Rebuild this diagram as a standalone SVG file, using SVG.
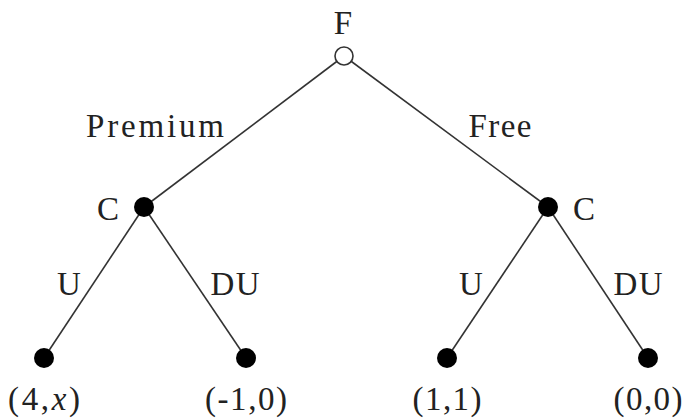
<svg xmlns="http://www.w3.org/2000/svg" width="682" height="420" viewBox="0 0 682 420">
<style>
text{font-family:"Liberation Serif","DejaVu Serif",serif;font-size:33px;fill:#222;text-anchor:middle}
.e{stroke:#333;stroke-width:1.6;fill:none}
.d{fill:#000}
</style>
<rect width="682" height="420" fill="#fff"/>
<g id="edges">
<line class="e" x1="344" y1="56" x2="144" y2="207"/>
<line class="e" x1="344" y1="56" x2="548" y2="207"/>
<line class="e" x1="144" y1="207" x2="44" y2="358"/>
<line class="e" x1="144" y1="207" x2="246" y2="358"/>
<line class="e" x1="548" y1="207" x2="447" y2="358"/>
<line class="e" x1="548" y1="207" x2="648" y2="358"/>
</g>
<g id="edge-labels">
<text x="155" y="137" textLength="138" lengthAdjust="spacing">Premium</text>
<text x="500" y="137" textLength="63" lengthAdjust="spacing">Free</text>
<text x="69" y="295">U</text>
<text x="235" y="295" textLength="49" lengthAdjust="spacing">DU</text>
<text x="471" y="295">U</text>
<text x="638" y="295" textLength="49" lengthAdjust="spacing">DU</text>
</g>
<g id="F">
<circle cx="344" cy="56" r="9" fill="#fff" stroke="#333" stroke-width="1.6"/>
<text x="343" y="34">F</text>
</g>
<g id="C-left">
<circle class="d" cx="144" cy="207" r="10"/>
<text x="108" y="220">C</text>
</g>
<g id="C-right">
<circle class="d" cx="548" cy="207" r="10"/>
<text x="584" y="220">C</text>
</g>
<g id="leaf1">
<circle class="d" cx="44" cy="358" r="10"/>
<text x="44" y="410" textLength="72" lengthAdjust="spacing">(4,<tspan font-style="italic">x</tspan>)</text>
</g>
<g id="leaf2">
<circle class="d" cx="246" cy="358" r="10"/>
<text x="246" y="410" textLength="82" lengthAdjust="spacing">(-1,0)</text>
</g>
<g id="leaf3">
<circle class="d" cx="447" cy="358" r="10"/>
<text x="447" y="410" textLength="69" lengthAdjust="spacing">(1,1)</text>
</g>
<g id="leaf4">
<circle class="d" cx="648" cy="358" r="10"/>
<text x="648" y="410" textLength="69" lengthAdjust="spacing">(0,0)</text>
</g>
</svg>
